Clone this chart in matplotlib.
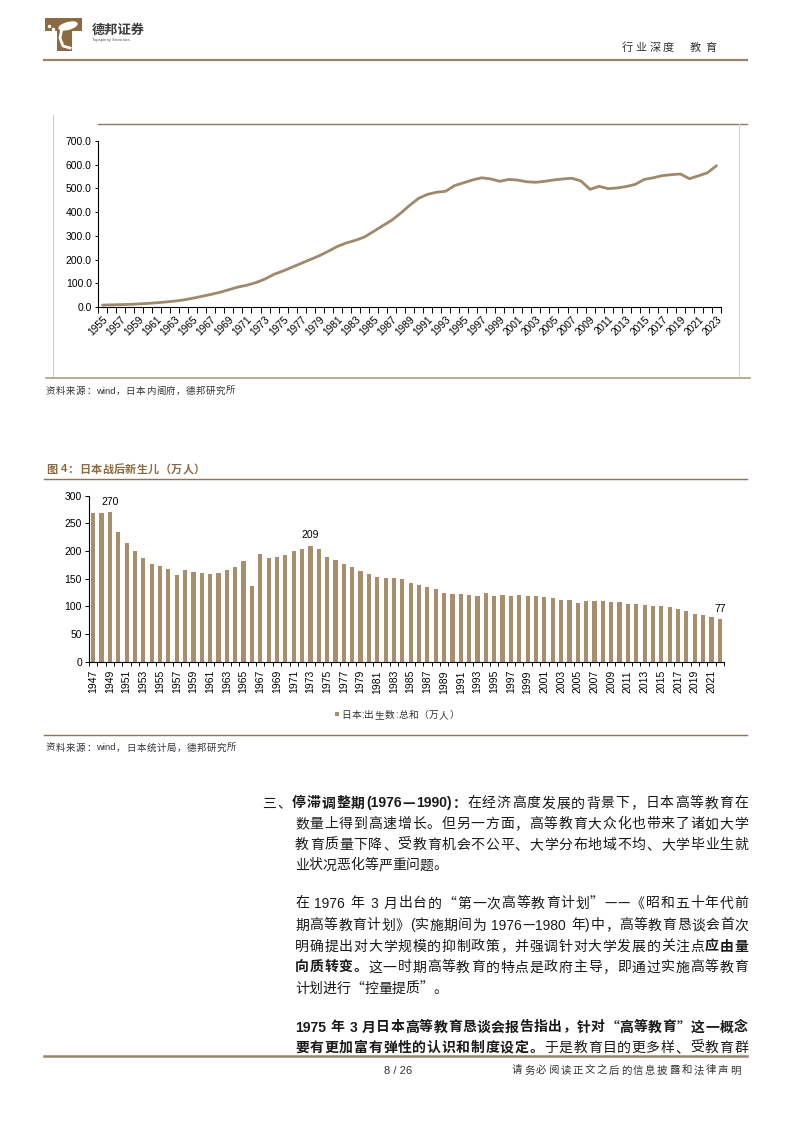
import re
import numpy as np
import matplotlib
matplotlib.use('Agg')
import matplotlib.pyplot as plt
from matplotlib.patches import Rectangle, Polygon, Ellipse

plt.rcParams['font.family'] = ['Liberation Sans', 'Noto Sans CJK SC']

W, H = 794, 1123

# chart 1: values (1955-2023)
years1 = list(range(1955, 2024))
vals1 = [8, 9, 10, 11, 13, 15, 18, 21, 25, 30,
         37, 45, 53, 62, 73, 84, 92, 103, 118, 138,
         152, 168, 184, 200, 216, 235, 255, 270, 281, 295,
         318, 342, 365, 395, 428, 458, 475, 484, 488, 512,
         524, 536, 545, 540, 530, 538, 535, 528, 526, 530,
         536, 540, 543, 531, 496, 509, 499, 502, 508, 517,
         538, 545, 554, 558, 561, 541, 553, 566, 596]

# chart 2: births in Japan, 10k people (1947-2022)
years2 = list(range(1947, 2023))
births = [268, 268, 270, 234, 214, 200, 187, 177, 173, 167,
          157, 165, 163, 160, 159, 161, 166, 172, 182, 136,
          194, 187, 189, 193, 200, 204, 209, 203, 190, 183,
          176, 171, 164, 158, 153, 152, 151, 149, 143, 138,
          135, 131, 125, 122, 122, 121, 119, 124, 119, 121,
          119, 120, 118, 119, 117, 115, 112, 111, 106, 109,
          109, 109, 107, 107, 105, 104, 103, 100, 101, 98,
          95, 92, 87, 84, 81, 77]
marked_years = [1949, 1973, 2022]

line_c = '#a08868'
bar_c = '#a88e6a'
brown = '#8b7355'

fig = plt.figure(figsize=(W / 100, H / 100), dpi=100)
bg = fig.add_axes([0, 0, 1, 1])
bg.set_xlim(0, W)
bg.set_ylim(H, 0)
bg.axis('off')
fig.canvas.draw()
rend = fig.canvas.get_renderer()


def jline(x0, y, segs, size, x1=None, color='#1a1a1a'):
    # latin runs stay together, cjk chars go one by one; spread out to x1 if given
    ts = []
    for s, wt in segs:
        for tok in re.findall(r'[A-Za-z0-9()./:]+|.', s):
            fam = ['Liberation Sans'] if tok.isascii() else ['Noto Sans CJK SC', 'DejaVu Sans']
            ts.append(bg.text(0, y, tok, fontsize=size, fontweight=wt, color=color, family=fam,
                              ha='left', va='center_baseline'))
    ws = [t.get_window_extent(rend).width for t in ts]
    gap = 0
    if x1 is not None and len(ts) > 1:
        gap = (x1 - x0 - sum(ws)) / (len(ts) - 1)
    x = x0
    for t, w in zip(ts, ws):
        t.set_x(x)
        x += w + gap


# ---- header
bg.add_patch(Polygon([(45, 18), (82, 18), (82, 31), (72, 31), (72, 51), (57, 51), (57, 31), (45, 31)],
                     closed=True, color='#8b6a40', lw=0))
bg.add_patch(Ellipse((68, 26), 20, 8, angle=-15, color='white', lw=0))
bg.plot([62, 60, 63, 70], [28, 38, 46, 48], color='white', lw=2)
bg.plot([49, 53, 51], [26, 29, 33], 'o', color='white', ms=1.5)
bg.text(92, 31, '德邦证券', fontsize=9.5, fontweight='bold', color='#3c3c3c', va='center')
bg.text(92, 40.5, 'Topsperity Securities', fontsize=3, color='#555555', va='center')
jline(622, 47, [('行业深度', 'normal')], 8, x1=674, color='#333333')
jline(690, 47, [('教育', 'normal')], 8, x1=716, color='#333333')
bg.plot([44, 747], [59.5, 59.5], color='#9a8468', lw=1.6)

# ---- chart 1 frame bits
bg.plot([98, 747], [124.3, 124.3], color='#8c7a62', lw=1)
bg.plot([53, 53], [115, 377], color='#cfcfcf', lw=0.8)
bg.plot([739, 739], [124, 377], color='#d5d5d5', lw=0.8)
bg.plot([46, 750], [378, 378], color='#b5a58f', lw=1.3)
jline(46, 390.5, [('资料来源：wind，日本内阁府，德邦研究所', 'normal')], 6.8, x1=235, color='#333333')

ax1 = fig.add_axes([98 / W, 1 - 307 / H, (721 - 98) / W, (307 - 141) / H])
ax1.set_facecolor('none')
x1 = np.arange(len(years1))
ax1.plot(x1, vals1, color=line_c, lw=2.0, solid_capstyle='round')
ax1.set_xlim(-0.5, len(years1) - 0.5)
ax1.set_ylim(0, 700)
ax1.set_yticks(np.arange(0, 701, 100))
ax1.set_yticklabels(['%.1f' % v for v in np.arange(0, 701, 100)], fontsize=7.5)
ax1.set_xticks(np.arange(-0.5, len(years1)), [])
ax1.set_xticks(x1[::2], [str(y) for y in years1[::2]], minor=True)
ax1.tick_params(axis='x', which='major', length=4, width=0.7, direction='out')
ax1.tick_params(axis='x', which='minor', length=0, pad=5, labelsize=7.3)
ax1.tick_params(axis='y', length=2.5, width=0.7, pad=2)
plt.setp(ax1.get_xticklabels(minor=True), rotation=45, ha='right', va='top', rotation_mode='anchor')
for s in ['top', 'right']:
    ax1.spines[s].set_visible(False)
for s in ['left', 'bottom']:
    ax1.spines[s].set_linewidth(0.8)

# ---- chart 2
jline(46, 468, [('图 4：日本战后新生儿（万人）', 'bold')], 8, x1=205, color='#8b6a3f')
bg.plot([44, 747], [479, 479], color=brown, lw=1)

ax2 = fig.add_axes([89 / W, 1 - 661.7 / H, (724 - 89) / W, (661.7 - 495.7) / H])
ax2.set_facecolor('none')
x2 = np.arange(len(years2))
ax2.bar(x2, births, width=0.5, color=bar_c)
ax2.set_xlim(-0.5, len(years2) - 0.5)
ax2.set_ylim(0, 300)
ax2.set_yticks(np.arange(0, 301, 50))
ax2.tick_params(axis='y', length=3, width=0.7, labelsize=7.5, pad=2)
ax2.set_xticks(np.arange(-0.5, len(years2)), [])
ax2.set_xticks(x2[::2], [str(y) for y in years2[::2]], minor=True)
ax2.tick_params(axis='x', which='major', length=3, width=0.7, direction='out')
ax2.tick_params(axis='x', which='minor', length=0, pad=6, labelsize=7.5, labelrotation=90)
for s in ['top', 'right']:
    ax2.spines[s].set_visible(False)
for s in ['left', 'bottom']:
    ax2.spines[s].set_linewidth(0.8)
for yr in marked_years:
    i = years2.index(yr)
    ax2.annotate(str(births[i]), (i, births[i]), xytext=(0, 4), textcoords='offset points',
                 ha='center', va='bottom', fontsize=7.5)

bg.add_patch(Rectangle((335, 712), 4, 4, color=bar_c, lw=0))
jline(341, 714, [('日本:出生数:总和（万人）', 'normal')], 7, x1=459, color='#333333')
bg.plot([44, 747], [735, 735], color=brown, lw=1)
jline(46, 747, [('资料来源：wind，日本统计局，德邦研究所', 'normal')], 6.8, x1=236, color='#333333')

# ---- body text
fs = 10
jline(262, 802, [('三、', 'normal'), ('停滞调整期(1976—1990)：', 'bold'),
                 ('在经济高度发展的背景下，日本高等教育在', 'normal')], fs, x1=748)
jline(295, 822.7, [('数量上得到高速增长。但另一方面，高等教育大众化也带来了诸如大学', 'normal')], fs, x1=748)
jline(295, 843.5, [('教育质量下降、受教育机会不公平、大学分布地域不均、大学毕业生就', 'normal')], fs, x1=748)
jline(295, 864, [('业状况恶化等严重问题。', 'normal')], fs)
jline(295, 902, [('在 1976 年 3 月出台的“第一次高等教育计划”——《昭和五十年代前', 'normal')], fs, x1=748)
jline(295, 924, [('期高等教育计划》(实施期间为 1976—1980 年)中，高等教育恳谈会首次', 'normal')], fs, x1=748)
jline(295, 945, [('明确提出对大学规模的抑制政策，并强调针对大学发展的关注点', 'normal'),
                 ('应由量', 'bold')], fs, x1=748)
jline(295, 966, [('向质转变。', 'bold'), ('这一时期高等教育的特点是政府主导，即通过实施高等教育', 'normal')], fs, x1=748)
jline(295, 987.5, [('计划进行“控量提质”。', 'normal')], fs)
jline(295, 1026, [('1975 年 3 月日本高等教育恳谈会报告指出，针对“高等教育”这一概念', 'bold')], fs, x1=748)
jline(295, 1046.5, [('要有更加富有弹性的认识和制度设定。', 'bold'), ('于是教育目的更多样、受教育群', 'normal')], fs, x1=748)

# ---- footer
bg.plot([44, 747], [1056, 1056], color='#9a8468', lw=1.8)
bg.text(398, 1069.5, '8 / 26', fontsize=8, color='#333333', ha='center', va='center_baseline')
jline(512, 1069.5, [('请务必阅读正文之后的信息披露和法律声明', 'normal')], 7.5, x1=740, color='#333333')

fig.savefig('out.png', dpi=100)
